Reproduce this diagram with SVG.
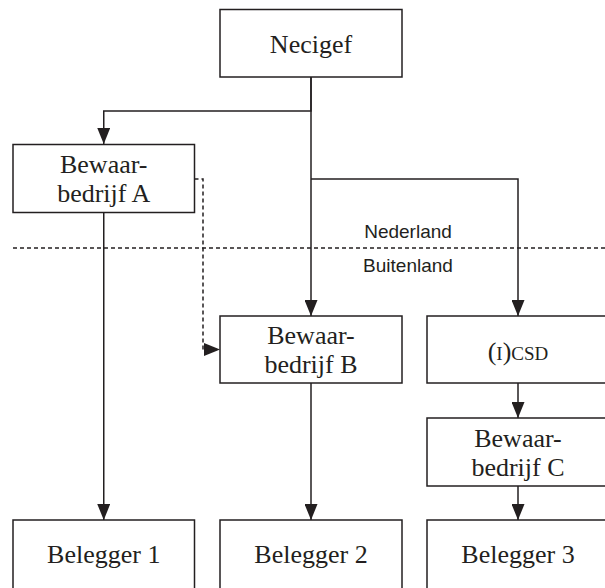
<svg xmlns="http://www.w3.org/2000/svg" width="605" height="588" viewBox="0 0 605 588">
<style>
.box{fill:#fff;stroke:#231f20;stroke-width:1.5}
.lbl{font-family:"Liberation Serif","Times New Roman",serif;font-size:26px;fill:#231f20;text-anchor:middle}
.sc{font-size:19px}
.reg{font-family:"Liberation Sans",Arial,sans-serif;font-size:19px;fill:#231f20;text-anchor:middle}
.ln{fill:none;stroke:#231f20;stroke-width:1.5}
.dash{fill:none;stroke:#231f20;stroke-width:1.5;stroke-dasharray:4 3}
</style>
<defs>
<marker id="arr" markerUnits="userSpaceOnUse" markerWidth="16" markerHeight="13" refX="16" refY="6.5" orient="auto">
<path d="M0,0 L16,6.5 L0,13 z" fill="#231f20"/>
</marker>
</defs>
<rect width="605" height="588" fill="#fff"/>
<g id="border">
<path class="dash" d="M13,248 H605"/>
<text class="reg" x="408" y="238">Nederland</text>
<text class="reg" x="408" y="272">Buitenland</text>
</g>
<g id="connectors">
<path class="ln" d="M311,77 V111 H103.75 V144" marker-end="url(#arr)"/>
<path class="ln" d="M311,77 V316" marker-end="url(#arr)"/>
<path class="ln" d="M311,179 H518 V316" marker-end="url(#arr)"/>
<path class="ln" d="M103.75,213 V520" marker-end="url(#arr)"/>
<path class="ln" d="M311,383 V520" marker-end="url(#arr)"/>
<path class="ln" d="M518,383 V418" marker-end="url(#arr)"/>
<path class="ln" d="M518,486 V520" marker-end="url(#arr)"/>
<path class="dash" d="M194.5,179 H203 V349.5 H220" marker-end="url(#arr)"/>
</g>
<g id="necigef">
<rect class="box" x="220" y="9.5" width="182" height="67.5"/>
<text class="lbl" x="311" y="53">Necigef</text>
</g>
<g id="bewaarbedrijf-a">
<rect class="box" x="13" y="144.5" width="181.5" height="68"/>
<text class="lbl" x="103.75" y="173">Bewaar-</text>
<text class="lbl" x="103.75" y="202">bedrijf A</text>
</g>
<g id="bewaarbedrijf-b">
<rect class="box" x="220" y="316" width="182" height="67"/>
<text class="lbl" x="311" y="344">Bewaar-</text>
<text class="lbl" x="311" y="373">bedrijf B</text>
</g>
<g id="icsd">
<rect class="box" x="427" y="316" width="182" height="67"/>
<text class="lbl" x="518" y="360">(<tspan class="sc">I</tspan>)<tspan class="sc">CSD</tspan></text>
</g>
<g id="bewaarbedrijf-c">
<rect class="box" x="427" y="418" width="182" height="68"/>
<text class="lbl" x="518" y="447">Bewaar-</text>
<text class="lbl" x="518" y="476">bedrijf C</text>
</g>
<g id="belegger-1">
<rect class="box" x="13" y="520" width="181.5" height="70"/>
<text class="lbl" x="103.75" y="563">Belegger 1</text>
</g>
<g id="belegger-2">
<rect class="box" x="220" y="520" width="182" height="70"/>
<text class="lbl" x="311" y="563">Belegger 2</text>
</g>
<g id="belegger-3">
<rect class="box" x="427" y="520" width="182" height="70"/>
<text class="lbl" x="518" y="563">Belegger 3</text>
</g>
</svg>
